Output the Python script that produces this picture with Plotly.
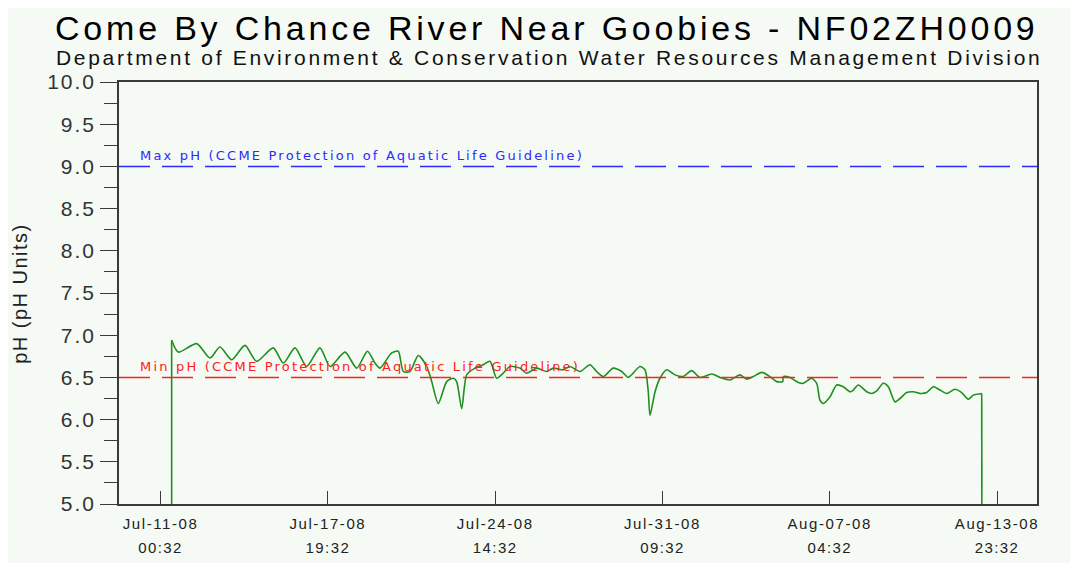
import plotly.graph_objects as go
import pandas as pd

# ---------------- data ----------------
base_time = "2008-07-11 00:32"
# hours since base_time
hours = [10.8, 10.8, 17.3, 35.2, 48.1, 57.9, 69.3, 82.2, 93.6, 109.8, 119.6, 131.0, 142.4,
         155.3, 165.1, 179.7, 191.1, 201.6, 208.9, 213.8, 225.2, 231.6, 236.5, 243.0, 251.1,
         259.3, 264.2, 270.6, 278.8, 285.2, 288.5, 293.4, 298.3, 306.4, 314.4, 321.0, 327.5,
         333.9, 340.5, 350.2, 356.7, 366.5, 376.2, 382.7, 392.4, 398.9, 408.7, 418.4, 424.9,
         431.4, 441.1, 449.3, 455.7, 467.1, 472.0, 475.2, 476.9, 481.8, 486.6, 493.2, 501.2,
         509.3, 517.5, 525.6, 537.0, 545.1, 554.8, 564.6, 571.1, 577.5, 585.7, 593.8, 600.3,
         606.2, 606.8, 613.3, 621.4, 626.3, 634.4, 639.3, 642.5, 645.7, 652.3, 658.8, 665.2,
         671.8, 675.0, 679.8, 688.0, 692.9, 697.8, 704.2, 709.1, 715.6, 720.5, 727.0, 733.4,
         740.0, 746.5, 752.9, 759.5, 766.0, 774.1, 780.6, 787.0, 791.9, 800.1, 800.7]
ph = [0.0, 6.94, 6.80, 6.90, 6.73, 6.86, 6.71, 6.88, 6.69, 6.85, 6.67, 6.85, 6.63,
      6.85, 6.63, 6.80, 6.61, 6.81, 6.67, 6.61, 6.79, 6.81, 6.57, 6.57, 6.76,
      6.63, 6.45, 6.19, 6.45, 6.49, 6.45, 6.13, 6.53, 6.61, 6.65, 6.69, 6.49,
      6.55, 6.63, 6.61, 6.55, 6.61, 6.57, 6.61, 6.59, 6.63, 6.57, 6.65, 6.57,
      6.51, 6.61, 6.57, 6.50, 6.63, 6.59, 6.33, 6.05, 6.33, 6.49, 6.59, 6.53,
      6.51, 6.58, 6.50, 6.54, 6.50, 6.47, 6.53, 6.48, 6.51, 6.56, 6.51, 6.45,
      6.45, 6.51, 6.50, 6.44, 6.43, 6.49, 6.43, 6.23, 6.19, 6.27, 6.41, 6.39,
      6.33, 6.35, 6.41, 6.33, 6.31, 6.34, 6.43, 6.39, 6.21, 6.25, 6.32, 6.33,
      6.31, 6.32, 6.39, 6.35, 6.31, 6.36, 6.32, 6.24, 6.29, 6.31, 0.0]

x_tick_times = ["2008-07-11 00:32", "2008-07-17 19:32", "2008-07-24 14:32",
                "2008-07-31 09:32", "2008-08-07 04:32", "2008-08-13 23:32"]
x_tick_dates = ["Jul-11-08", "Jul-17-08", "Jul-24-08", "Jul-31-08", "Aug-07-08", "Aug-13-08"]
x_tick_clock = ["00:32", "19:32", "14:32", "09:32", "04:32", "23:32"]
x_range = ["2008-07-09 08:02", "2008-08-15 14:30"]

y_ticks = [5.0, 5.5, 6.0, 6.5, 7.0, 7.5, 8.0, 8.5, 9.0, 9.5, 10.0]
max_ph = 9.0
min_ph = 6.5

title = "Come By Chance River Near Goobies - NF02ZH0009"
subtitle = "Department of Environment &amp; Conservation Water Resources Management Division"
max_label = "Max pH (CCME Protection of Aquatic Life Guideline)"
min_label = "Min pH (CCME Protection of Aquatic Life Guideline)"
y_title = "pH (pH Units)"

# ---------------- figure ----------------
bg = "#f5faf5"
axcol = "#3a3a3a"
green = "#1f8f1f"
t0 = pd.Timestamp(base_time)
times = [t0 + pd.Timedelta(hours=h) for h in hours]


def sp(s, ls, size=None):
    st = f"letter-spacing:{ls}px"
    if size:
        st += f";font-size:{size}px"
    return f'<span style="{st}">{s}</span>'


fig = go.Figure()
# main record (smoothed like the original logger plot)
fig.add_trace(go.Scatter(x=times[1:-1], y=ph[1:-1], mode="lines",
                         line=dict(color=green, width=1.6, shape="spline", smoothing=0.7),
                         showlegend=False, hoverinfo="skip"))
# start / end drop-outs
fig.add_trace(go.Scatter(x=times[:2], y=ph[:2], mode="lines",
                         line=dict(color=green, width=1.6), showlegend=False, hoverinfo="skip"))
fig.add_trace(go.Scatter(x=times[-2:], y=ph[-2:], mode="lines",
                         line=dict(color=green, width=1.6), showlegend=False, hoverinfo="skip"))

fig.add_shape(type="line", xref="paper", yref="y", x0=0, x1=1, y0=max_ph, y1=max_ph,
              line=dict(color="#2a2aff", width=1.5, dash="31px,12px"))
fig.add_shape(type="line", xref="paper", yref="y", x0=0, x1=1, y0=min_ph, y1=min_ph,
              line=dict(color="#ff2020", width=1.5, dash="31px,12px"))

ann = [
    dict(text=sp(title, 3.8), x=0.466, y=1.128, xref="paper", yref="paper",
         showarrow=False, font=dict(family="Liberation Sans", size=34, color="#000000"),
         xanchor="center", yanchor="middle"),
    dict(text=sp(subtitle, 2.7), x=0.468, y=1.057, xref="paper", yref="paper",
         showarrow=False, font=dict(family="Liberation Sans", size=21, color="#111111"),
         xanchor="center", yanchor="middle"),
    dict(text=sp(max_label, 2.2), x=0.021, y=max_ph, xref="paper", yref="y",
         showarrow=False, font=dict(family="DejaVu Sans", size=13, color="#2a2aff"),
         xanchor="left", yanchor="bottom", yshift=1),
    dict(text=sp(min_label, 2.2), x=0.021, y=min_ph, xref="paper", yref="y",
         showarrow=False, font=dict(family="DejaVu Sans", size=13, color="#ff2020"),
         xanchor="left", yanchor="bottom", yshift=1),
    dict(text=sp(y_title, 1.5), x=-0.108, y=0.5, xref="paper", yref="paper",
         showarrow=False, textangle=-90, font=dict(family="Liberation Sans", size=20, color="#222222"),
         xanchor="center", yanchor="middle"),
]

fig.update_layout(
    width=1078, height=563,
    margin=dict(l=111, r=49, t=74, b=67),
    paper_bgcolor=bg, plot_bgcolor=bg,
    annotations=ann,
    showlegend=False,
    xaxis=dict(
        type="date", range=x_range, showgrid=False, zeroline=False,
        showline=True, linecolor=axcol, linewidth=1.5, mirror=True,
        ticks="inside", ticklen=13, tickwidth=1.3, tickcolor=axcol,
        tickvals=x_tick_times,
        ticktext=[sp(d, 1.6, 15) + "<br>" + sp(c, 1.4, 15) for d, c in zip(x_tick_dates, x_tick_clock)],
        tickfont=dict(family="Liberation Sans", size=18, color="#222222"),
        ticklabelstandoff=2,
    ),
    yaxis=dict(
        range=[5, 10], showgrid=False, zeroline=False,
        showline=True, linecolor=axcol, linewidth=1.5, mirror=True,
        ticks="outside", ticklen=17, tickwidth=1.3, tickcolor=axcol,
        tickvals=y_ticks, ticktext=[sp(f"{v:.1f}", 2.0) for v in y_ticks],
        tickfont=dict(family="Liberation Sans", size=21, color="#333333"),
        minor=dict(dtick=0.25, tick0=5, ticks="outside", ticklen=13, tickwidth=1.3, tickcolor=axcol),
    ),
)

fig.write_html("out.html")
